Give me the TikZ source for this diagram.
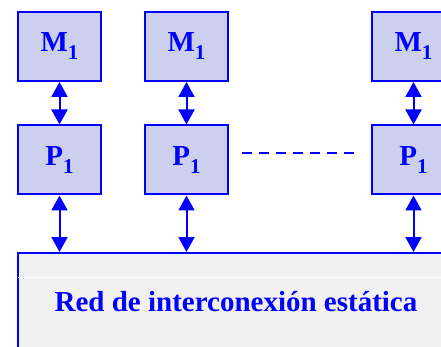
\documentclass[tikz,border=0pt]{standalone}
\usepackage{fontspec}
\setmainfont{Liberation Serif}
\usetikzlibrary{arrows.meta}

\definecolor{boxfill}{RGB}{205,207,238}
\definecolor{netfill}{RGB}{241,241,241}
\newcommand{\lowidx}[1]{\raisebox{-8pt}{\fontsize{21}{24}\selectfont #1}}

\begin{document}
\begin{tikzpicture}[x=1pt, y=-1pt,
        unit/.style={draw=blue, fill=boxfill, line width=2pt, minimum width=83pt,
            minimum height=69pt, inner sep=0pt, text=blue,
            font=\fontsize{29}{32}\selectfont\bfseries},
        link/.style={draw=blue, line width=2pt, {Triangle[width=16pt,length=15pt]}-{Triangle[width=16pt,length=15pt]}}]
    \useasboundingbox (0, 0) rectangle (441, 347);
    \clip (0, 0) rectangle (441, 347);

    % memories and processors
    \node[unit] (M1) at (59.5, 46.5) {M\lowidx{1}};
    \node[unit] (M2) at (186.5, 46.5) {M\lowidx{1}};
    \node[unit] (M3) at (413.5, 46.5) {M\lowidx{1}};
    \node[unit] (P1) at (59.5, 160) {P\lowidx{1}};
    \node[unit] (P2) at (186.5, 160) {P\lowidx{1}};
    \node[unit] (P3) at (413.5, 160) {P\lowidx{1}};

    % the network
    \node[unit, fill=netfill, minimum width=436pt, minimum height=98pt] (red) at (236, 302)
        {Red de interconexión estática};
    \draw[white, line width=0.8pt] ([xshift=1pt, yshift=-25pt]red.north west)
        -- ([xshift=-1pt, yshift=-25pt]red.north east);

    \draw[link] (M1) -- (P1);
    \draw[link] (M2) -- (P2);
    \draw[link] (M3) -- (P3);
    \draw[link] (P1.south) -- (P1.south |- red.north);
    \draw[link] (P2.south) -- (P2.south |- red.north);
    \draw[link] (P3.south) -- (P3.south |- red.north);
    \draw[blue, line width=2pt, dash pattern=on 10pt off 7pt]
        ([xshift=13pt, yshift=7pt]P2.east) -- ([xshift=-14pt, yshift=7pt]P3.west);
\end{tikzpicture}
\end{document}
